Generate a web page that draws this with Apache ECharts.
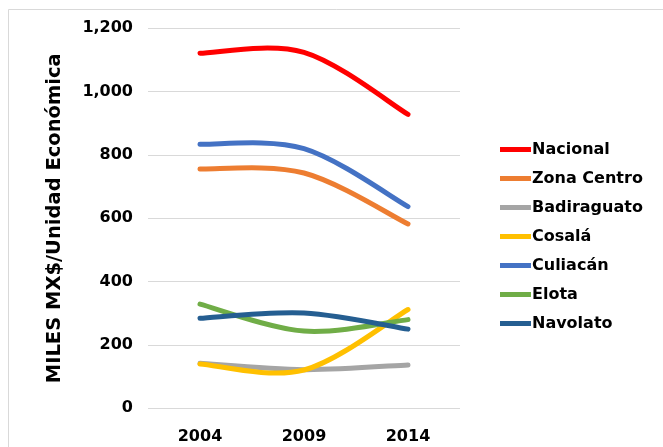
<!DOCTYPE html>
<html>
<head>
<meta charset="utf-8">
<script src="https://cdn.jsdelivr.net/npm/echarts@6/dist/echarts.min.js"></script>
<style>
  html, body { margin: 0; padding: 0; background: #ffffff; }
  #chart { width: 663px; height: 447px; }
</style>
</head>
<body>
<div id="chart"></div>
<script>
// Years on the category axis
const years = ['2004', '2009', '2014'];

// Value per economic unit (thousands of MX$)
const nacional    = [1121, 1124, 928];
const zonaCentro  = [756, 743, 582];
const badiraguato = [142, 122, 137];
const cosala      = [140, 121, 312];
const culiacan    = [834, 820, 637];
const elota       = [329, 244, 280];
const navolato    = [284, 301, 250];

const seriesNames = ['Nacional', 'Zona Centro', 'Badiraguato', 'Cosalá', 'Culiacán', 'Elota', 'Navolato'];
const seriesData = [nacional, zonaCentro, badiraguato, cosala, culiacan, elota, navolato];
const colors = ['#FF0000', '#ED7D31', '#A5A5A5', '#FFC000', '#4472C4', '#70AD47', '#255E91'];

const FONT = '"DejaVu Sans", "Noto Sans", sans-serif';

// Catmull-Rom style smoothed path (tension 1/6) through pixel points
function smoothPath(pts) {
  let d = 'M' + pts[0][0] + ' ' + pts[0][1];
  for (let i = 0; i < pts.length - 1; i++) {
    const p0 = pts[Math.max(i - 1, 0)];
    const p1 = pts[i];
    const p2 = pts[i + 1];
    const p3 = pts[Math.min(i + 2, pts.length - 1)];
    const c1x = p1[0] + (p2[0] - p0[0]) / 6;
    const c1y = p1[1] + (p2[1] - p0[1]) / 6;
    const c2x = p2[0] - (p3[0] - p1[0]) / 6;
    const c2y = p2[1] - (p3[1] - p1[1]) / 6;
    d += ' C' + c1x + ' ' + c1y + ' ' + c2x + ' ' + c2y + ' ' + p2[0] + ' ' + p2[1];
  }
  return d;
}

const chart = echarts.init(document.getElementById('chart'), null, { renderer: 'canvas' });

chart.setOption({
  animation: false,
  backgroundColor: '#ffffff',
  color: colors,
  graphic: [{
    type: 'rect',
    shape: { x: 8.5, y: 9.5, width: 720, height: 520 },
    style: { fill: 'none', stroke: '#d9d9d9', lineWidth: 1 },
    silent: true
  }],
  grid: { left: 148, right: 203, top: 28.3, bottom: 38.7, containLabel: false },
  legend: {
    orient: 'vertical',
    left: 495,
    top: 134,
    icon: 'rect',
    itemWidth: 31,
    itemHeight: 5,
    itemGap: 8,
    textStyle: { fontFamily: FONT, fontWeight: 'bold', fontSize: 16, color: '#000000', lineHeight: 21, padding: [0, 0, 0, -4] },
    data: seriesNames
  },
  xAxis: {
    type: 'category',
    data: years,
    boundaryGap: true,
    axisLine: { show: false },
    axisTick: { show: false },
    axisLabel: { fontFamily: FONT, fontWeight: 'bold', fontSize: 16, color: '#000000', margin: 21 }
  },
  yAxis: {
    type: 'value',
    min: 0,
    max: 1200,
    interval: 200,
    name: 'MILES MX$/Unidad Económica',
    nameLocation: 'middle',
    nameGap: 83,
    nameTextStyle: { fontFamily: FONT, fontWeight: 'bold', fontSize: 19.5, color: '#000000' },
    axisLine: { show: false },
    axisTick: { show: false },
    splitLine: { lineStyle: { color: '#d9d9d9', width: 1 } },
    axisLabel: {
      fontFamily: FONT, fontWeight: 'bold', fontSize: 16, color: '#000000', margin: 15,
      formatter: v => v.toLocaleString('en-US')
    }
  },
  series: seriesNames.map((name, i) => ({
    name: name,
    type: 'custom',
    data: seriesData[i],
    itemStyle: { color: colors[i] },
    renderItem: function (params, api) {
      // one smoothed path per series, drawn when the first item is rendered
      if (params.dataIndex !== 0) return null;
      const vals = seriesData[params.seriesIndex];
      const pts = vals.map((v, k) => api.coord([k, v]));
      return {
        type: 'path',
        shape: { pathData: smoothPath(pts) },
        style: { fill: 'none', stroke: colors[params.seriesIndex], lineWidth: 5, lineCap: 'round', lineJoin: 'round' }
      };
    }
  }))
});
</script>
</body>
</html>
